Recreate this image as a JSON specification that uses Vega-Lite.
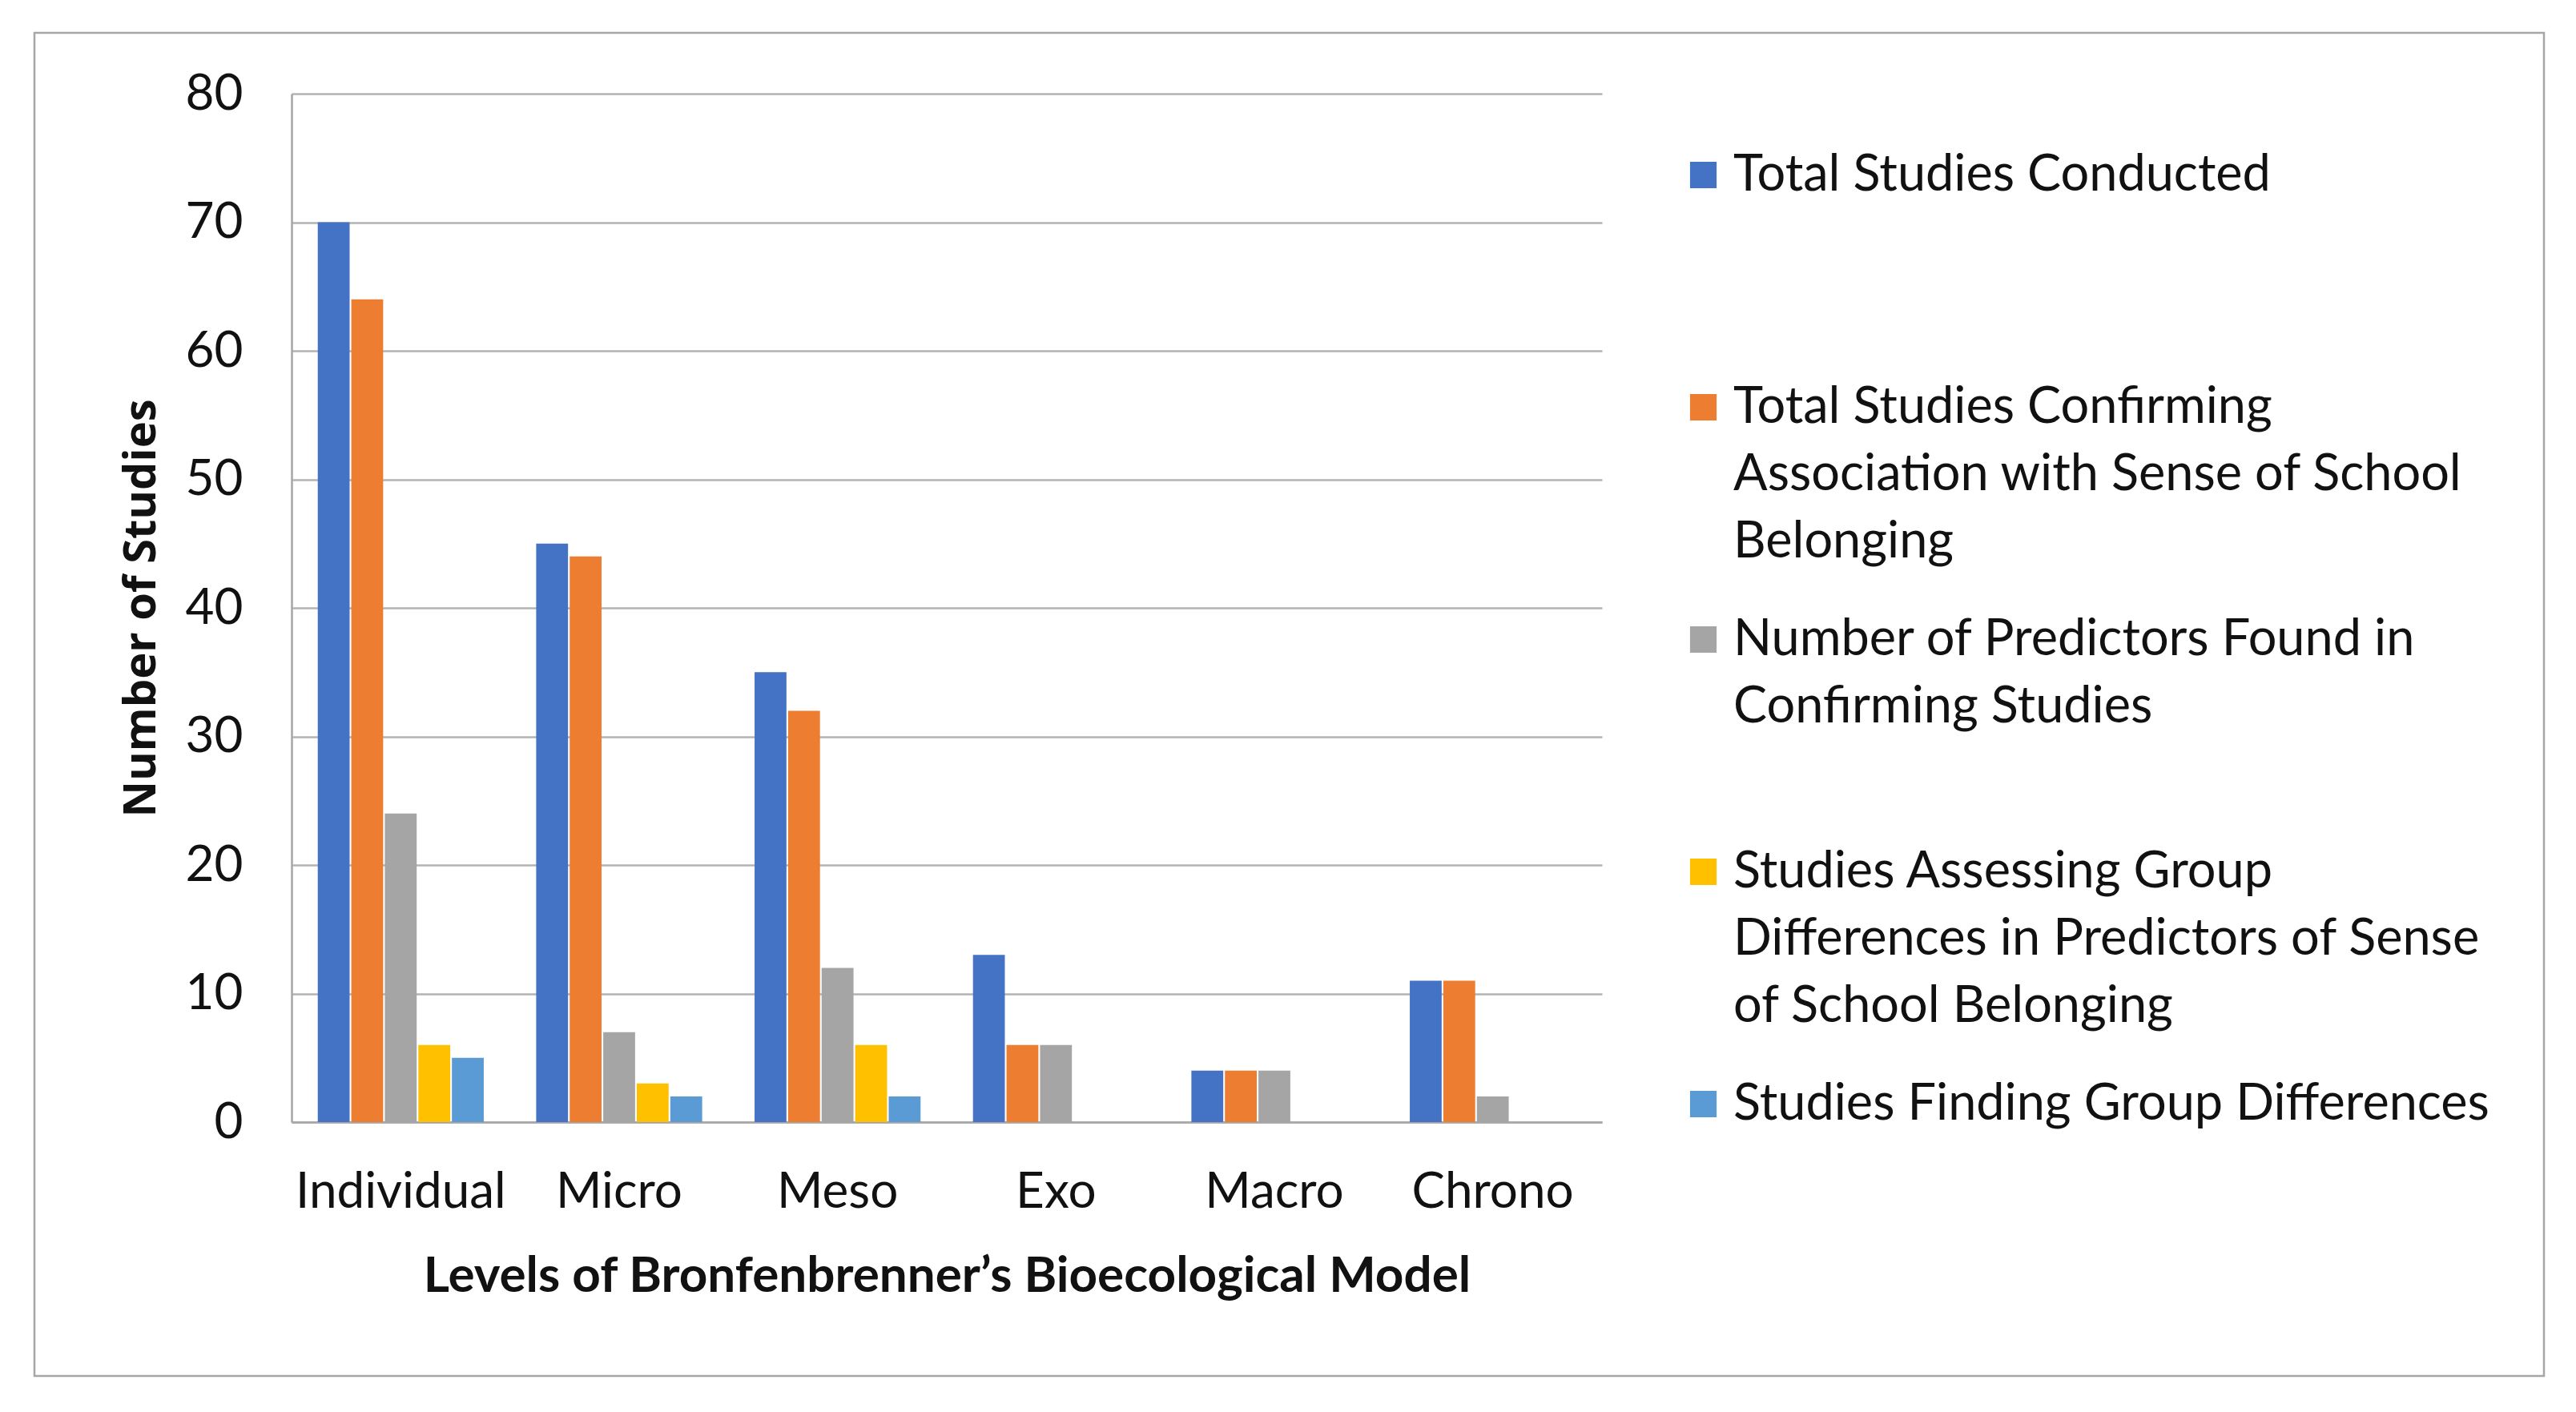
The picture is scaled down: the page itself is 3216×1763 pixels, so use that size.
{
  "$schema": "https://vega.github.io/schema/vega-lite/v6.json",
  "width": 3133,
  "height": 1677,
  "autosize": {"type": "none"},
  "padding": {"left": 43, "top": 41, "right": 40, "bottom": 45},
  "background": "white",
  "config": {
    "view": {"stroke": "#A6A6A6", "strokeWidth": 2.5},
    "font": "Lato",
    "axis": {"labelColor": "#111111", "titleColor": "#111111"},
    "legend": {"labelColor": "#111111"}
  },
  "data": {
    "values": [
      {"level": "Individual", "series": "Total Studies Conducted", "count": 70},
      {"level": "Individual", "series": "Total Studies Confirming Association with Sense of School Belonging", "count": 64},
      {"level": "Individual", "series": "Number of Predictors Found in Confirming Studies", "count": 24},
      {"level": "Individual", "series": "Studies Assessing Group Differences in Predictors of Sense of School Belonging", "count": 6},
      {"level": "Individual", "series": "Studies Finding Group Differences", "count": 5},
      {"level": "Micro", "series": "Total Studies Conducted", "count": 45},
      {"level": "Micro", "series": "Total Studies Confirming Association with Sense of School Belonging", "count": 44},
      {"level": "Micro", "series": "Number of Predictors Found in Confirming Studies", "count": 7},
      {"level": "Micro", "series": "Studies Assessing Group Differences in Predictors of Sense of School Belonging", "count": 3},
      {"level": "Micro", "series": "Studies Finding Group Differences", "count": 2},
      {"level": "Meso", "series": "Total Studies Conducted", "count": 35},
      {"level": "Meso", "series": "Total Studies Confirming Association with Sense of School Belonging", "count": 32},
      {"level": "Meso", "series": "Number of Predictors Found in Confirming Studies", "count": 12},
      {"level": "Meso", "series": "Studies Assessing Group Differences in Predictors of Sense of School Belonging", "count": 6},
      {"level": "Meso", "series": "Studies Finding Group Differences", "count": 2},
      {"level": "Exo", "series": "Total Studies Conducted", "count": 13},
      {"level": "Exo", "series": "Total Studies Confirming Association with Sense of School Belonging", "count": 6},
      {"level": "Exo", "series": "Number of Predictors Found in Confirming Studies", "count": 6},
      {"level": "Exo", "series": "Studies Assessing Group Differences in Predictors of Sense of School Belonging", "count": 0},
      {"level": "Exo", "series": "Studies Finding Group Differences", "count": 0},
      {"level": "Macro", "series": "Total Studies Conducted", "count": 4},
      {"level": "Macro", "series": "Total Studies Confirming Association with Sense of School Belonging", "count": 4},
      {"level": "Macro", "series": "Number of Predictors Found in Confirming Studies", "count": 4},
      {"level": "Macro", "series": "Studies Assessing Group Differences in Predictors of Sense of School Belonging", "count": 0},
      {"level": "Macro", "series": "Studies Finding Group Differences", "count": 0},
      {"level": "Chrono", "series": "Total Studies Conducted", "count": 11},
      {"level": "Chrono", "series": "Total Studies Confirming Association with Sense of School Belonging", "count": 11},
      {"level": "Chrono", "series": "Number of Predictors Found in Confirming Studies", "count": 2},
      {"level": "Chrono", "series": "Studies Assessing Group Differences in Predictors of Sense of School Belonging", "count": 0},
      {"level": "Chrono", "series": "Studies Finding Group Differences", "count": 0}
    ]
  },
  "mark": {"type": "bar"},
  "encoding": {
    "x": {
      "field": "level",
      "type": "nominal",
      "sort": ["Individual", "Micro", "Meso", "Exo", "Macro", "Chrono"],
      "scale": {"range": [321, 1957], "paddingInner": 0.24, "paddingOuter": 0.12},
      "axis": {
        "orient": "bottom",
        "offset": -317,
        "labelAngle": 0,
        "labelFontSize": 62,
        "labelPadding": 57,
        "labelLimit": 1000,
        "ticks": false,
        "domain": true,
        "domainColor": "#A6A6A6",
        "domainWidth": 2.5,
        "grid": false,
        "title": "Levels of Bronfenbrenner’s Bioecological Model",
        "titleFont": "Lato",
        "titleFontWeight": "bold",
        "titleFontSize": 62,
        "titlePadding": 44
      }
    },
    "xOffset": {
      "field": "series",
      "type": "nominal",
      "sort": [
        "Total Studies Conducted",
        "Total Studies Confirming Association with Sense of School Belonging",
        "Number of Predictors Found in Confirming Studies",
        "Studies Assessing Group Differences in Predictors of Sense of School Belonging",
        "Studies Finding Group Differences"
      ],
      "scale": {"paddingInner": 0.05}
    },
    "y": {
      "field": "count",
      "type": "quantitative",
      "scale": {"domain": [0, 80], "range": [1360, 76], "nice": false, "zero": true},
      "axis": {
        "orient": "left",
        "offset": -321,
        "values": [0, 10, 20, 30, 40, 50, 60, 70, 80],
        "labelFontSize": 62,
        "labelPadding": 61,
        "ticks": false,
        "domain": true,
        "domainColor": "#A6A6A6",
        "domainWidth": 2.5,
        "grid": true,
        "gridColor": "#B3B3B3",
        "gridWidth": 2.5,
        "title": "Number of Studies",
        "titleFont": "Open Sans",
        "titleFontWeight": "bold",
        "titleFontSize": 56,
        "titlePadding": 26
      }
    },
    "color": {
      "field": "series",
      "type": "nominal",
      "scale": {
        "domain": [
          "Total Studies Conducted",
          "Total Studies Confirming Association with Sense of School Belonging",
          "Number of Predictors Found in Confirming Studies",
          "Studies Assessing Group Differences in Predictors of Sense of School Belonging",
          "Studies Finding Group Differences"
        ],
        "range": ["#4472C4", "#ED7D31", "#A5A5A5", "#FFC000", "#5B9BD5"]
      },
      "legend": {
        "orient": "none",
        "legendX": 2052,
        "legendY": 146,
        "title": null,
        "padding": 0,
        "symbolType": "square",
        "symbolSize": 1100,
        "symbolStrokeWidth": 0,
        "labelFontSize": 63,
        "labelLimit": 2000,
        "labelOffset": 6,
        "rowPadding": 58,
        "gridAlign": "all",
        "columns": 1,
        "labelExpr": "datum.label == 'Total Studies Confirming Association with Sense of School Belonging' ? ['Total Studies Confirming', 'Association with Sense of School', 'Belonging'] : datum.label == 'Number of Predictors Found in Confirming Studies' ? ['Number of Predictors Found in', 'Confirming Studies'] : datum.label == 'Studies Assessing Group Differences in Predictors of Sense of School Belonging' ? ['Studies Assessing Group', 'Differences in Predictors of Sense', 'of School Belonging'] : datum.label",
        "encode": {"labels": {"update": {"lineHeight": {"value": 84}}}}
      }
    }
  }
}
